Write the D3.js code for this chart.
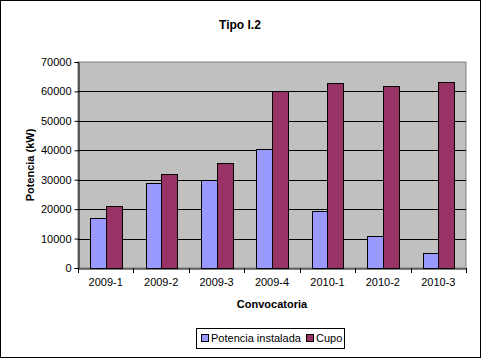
<!DOCTYPE html>
<html><head><meta charset="utf-8">
<script src="https://cdn.jsdelivr.net/npm/d3@7"></script>
<style>body{margin:0;background:#fff}svg{display:block;font-family:"Liberation Sans",Arial,sans-serif}</style>
</head><body>
<script>
const categories = ["2009-1","2009-2","2009-3","2009-4","2010-1","2010-2","2010-3"];
const potenciaInstalada = [17000,28800,29900,40600,19400,10800,5000];
const cupo = [21000,31800,35600,60300,62700,61700,63100];
const yTicks = [0,10000,20000,30000,40000,50000,60000,70000];
const seriesNames = ["Potencia instalada","Cupo"];
const colors = ["#9999FF","#993366"];

const W=481,H=358;
const svg=d3.select("body").append("svg").attr("width",W).attr("height",H);
svg.append("rect").attr("x",0.5).attr("y",0.5).attr("width",W-1).attr("height",H-1).attr("fill","#fff").attr("stroke","#000");

const L=78,R=466,T=62,B=268;
const x=d3.scaleBand().domain(categories).range([L,R]);
const y=d3.scaleLinear().domain([0,70000]).range([B,T]);
const inner=d3.scaleBand().domain([0,1]).range([0,x.bandwidth()]).paddingInner(0).paddingOuter(0.78);

svg.append("rect").attr("x",L).attr("y",T).attr("width",R-L).attr("height",B-T).attr("fill","#C0C0C0").attr("stroke","#808080");

svg.append("g").selectAll("line").data(yTicks.filter(d=>d>0&&d<70000)).join("line")
 .attr("x1",L).attr("x2",R).attr("y1",d=>Math.round(y(d))+0.5).attr("y2",d=>Math.round(y(d))+0.5).attr("stroke","#000");

const series=[potenciaInstalada,cupo];
series.forEach((s,i)=>{
 svg.append("g").selectAll("rect").data(s).join("rect")
  .attr("x",(d,j)=>Math.round(x(categories[j])+inner(i))+0.5)
  .attr("y",d=>Math.round(y(d))+0.5)
  .attr("width",Math.round(inner.bandwidth()))
  .attr("height",d=>B-Math.round(y(d)))
  .attr("fill",colors[i]).attr("stroke","#000");
});

const yAxis=svg.append("g").attr("transform",`translate(${L+0.5},0)`)
 .call(d3.axisLeft(y).tickValues(yTicks).tickSize(4).tickPadding(3).tickFormat(d3.format("d")));
yAxis.select(".domain").attr("stroke","#000");
yAxis.selectAll("text").attr("font-size",11).attr("font-family","Liberation Sans, Arial").attr("fill","#000");
yAxis.selectAll(".tick line").attr("stroke","#000");

const xAxis=svg.append("g").attr("transform",`translate(0,${B+0.5})`)
 .call(d3.axisBottom(x).tickSize(0).tickPadding(10));
xAxis.select(".domain").attr("stroke","#000");
xAxis.selectAll("text").attr("font-size",11).attr("font-family","Liberation Sans, Arial").attr("fill","#000");
svg.append("g").selectAll("line").data(categories.concat(["_end"])).join("line")
 .attr("x1",(d,i)=>Math.round(L+i*x.step())+0.5).attr("x2",(d,i)=>Math.round(L+i*x.step())+0.5)
 .attr("y1",B).attr("y2",B+5).attr("stroke","#000");

svg.append("text").attr("x",240).attr("y",29).attr("text-anchor","middle").attr("font-size",12).attr("font-weight","bold").text("Tipo I.2");
svg.append("text").attr("x",272).attr("y",308).attr("text-anchor","middle").attr("font-size",11).attr("font-weight","bold").text("Convocatoria");
svg.append("text").attr("transform","translate(34,165) rotate(-90)").attr("text-anchor","middle").attr("font-size",11).attr("font-weight","bold").text("Potencia (kW)");

const lg=svg.append("g");
lg.append("rect").attr("x",196.5).attr("y",328.5).attr("width",148).attr("height",20).attr("fill","#fff").attr("stroke","#000");
const lx=[201,306];
seriesNames.forEach((n,i)=>{
 lg.append("rect").attr("x",lx[i]+0.5).attr("y",334.5).attr("width",7).attr("height",7).attr("fill",colors[i]).attr("stroke","#000");
 lg.append("text").attr("x",lx[i]+10).attr("y",342).attr("font-size",11).text(n);
});
</script>
</body></html>
